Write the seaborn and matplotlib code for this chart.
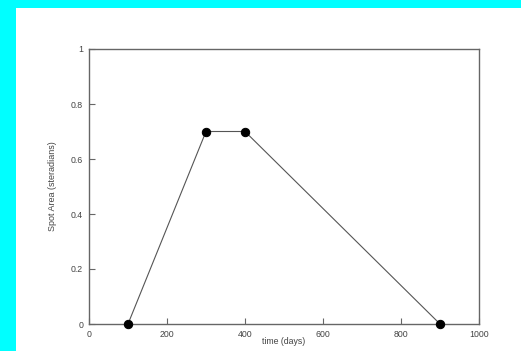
import matplotlib
matplotlib.use("Agg")
import matplotlib.pyplot as plt
from matplotlib.patches import Rectangle
import seaborn as sns
import pandas as pd

time_days = [100, 300, 400, 900]
spot_area = [0.0, 0.7, 0.7, 0.0]
x_ticks = [0, 200, 400, 600, 800, 1000]
y_ticks = [0, 0.2, 0.4, 0.6, 0.8, 1]
y_tick_labels = ["0", "0.2", "0.4", "0.6", "0.8", "1"]

sns.set_theme(style="white")
plt.rcParams["font.family"] = ["Liberation Sans", "DejaVu Sans"]

df = pd.DataFrame({"time": time_days, "area": spot_area})

fig = plt.figure(figsize=(5.21, 3.51), dpi=100, facecolor="#00ffff")
# white page inset, leaving a cyan band on the left and top
fig.patches.append(Rectangle((16 / 521, 0), 1 - 16 / 521, 1 - 8 / 351,
                             transform=fig.transFigure, facecolor="white",
                             edgecolor="none", zorder=-10))
ax = fig.add_axes([89 / 521, 1 - 324 / 351, 390 / 521, 275 / 351])
ax.set_facecolor("white")

sns.lineplot(data=df, x="time", y="area", ax=ax, color="#555555", linewidth=0.8,
             marker="o", markersize=6, markerfacecolor="black",
             markeredgecolor="black", clip_on=False, zorder=3)

ax.set_xlim(0, 1000)
ax.set_ylim(0, 1)
ax.set_xticks(x_ticks)
ax.set_yticks(y_ticks)
ax.set_yticklabels(y_tick_labels)
for s in ax.spines.values():
    s.set_color("#666666")
    s.set_linewidth(1.0)
ax.tick_params(axis="both", direction="in", length=4, width=0.8, color="#666666",
               labelsize=6.3, labelcolor="#444444",
               bottom=True, left=True, top=False, right=False)
ax.tick_params(axis="x", pad=4.5)
ax.tick_params(axis="y", pad=4.3)
ax.set_xlabel("time (days)", fontsize=6.3, color="#444444")
ax.set_ylabel("Spot Area (steradians)", fontsize=6.5, color="#444444")
ax.xaxis.set_label_coords(0.5, -0.047)
ax.yaxis.set_label_coords(-0.082, 0.5)

fig.savefig("out.png", dpi=100, facecolor=fig.get_facecolor())
